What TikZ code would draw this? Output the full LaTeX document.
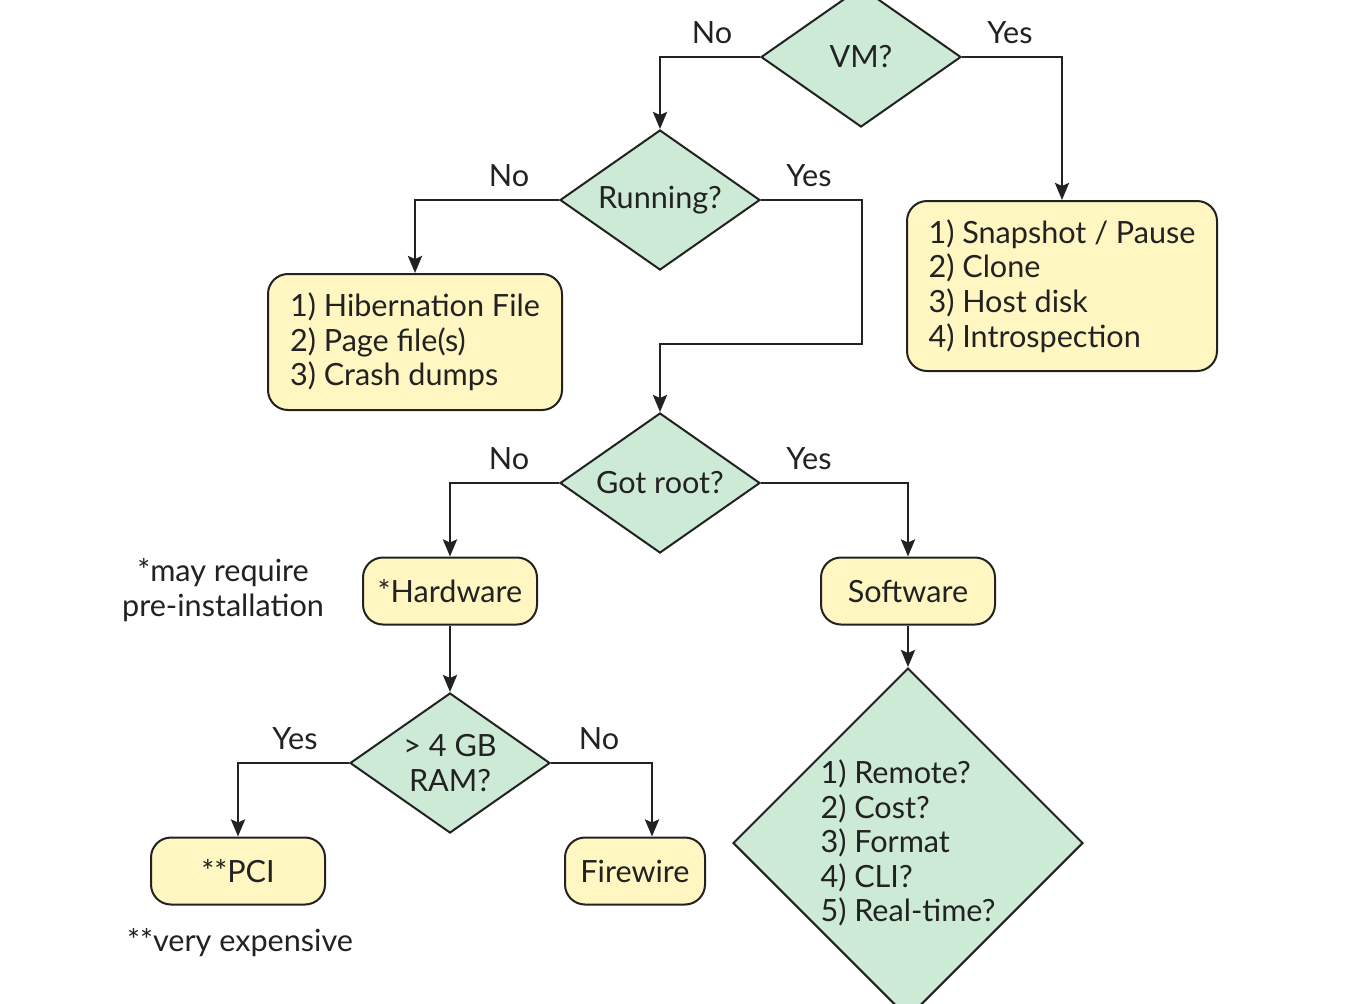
\documentclass[tikz,border=0pt]{standalone}
\usepackage{fontspec}
\setmainfont{Lato}
\usetikzlibrary{shapes.geometric,arrows.meta}
\definecolor{boxfill}{HTML}{FFF6C1}
\definecolor{askfill}{HTML}{CCEAD5}
\definecolor{ink}{HTML}{222222}
\begin{document}
\begin{tikzpicture}[x=0.5pt, y=-0.5pt,
    every node/.style={font=\fontsize{15.3}{17.3}\selectfont, text=ink},
    ask/.style={diamond, aspect=1.43, draw=ink, fill=askfill, line width=1pt,
        inner sep=0pt, minimum width=100pt, minimum height=70pt, align=center},
    answer/.style={rectangle, rounded corners=10pt, draw=ink, fill=boxfill,
        line width=1pt, minimum height=33.5pt, align=left},
    flow/.style={draw=ink, line width=1.4pt, -{Stealth[length=8.5pt, width=7pt, inset=1.5pt]}},
    lbl/.style={above, inner sep=6pt}]
    \path[use as bounding box, fill=white] (0, 0) rectangle (1348, 1003);

    % questions
    \node[ask] (vm) at (861, 57) {VM?};
    \node[ask] (run) at (660, 200) {Running?};
    \node[ask] (root) at (660, 483) {Got root?};
    \node[ask] (ram) at (450, 763) {> 4 GB\\RAM?};
    \node[ask, aspect=1, minimum width=175pt, minimum height=175pt, align=left] (opts) at (908, 843)
        {1) Remote?\\2) Cost?\\3) Format\\4) CLI?\\5) Real-time?};

    % answers
    \node[answer, minimum width=147pt, minimum height=68pt] (hib) at (415, 342)
        {1) Hibernation File\\2) Page file(s)\\3) Crash dumps};
    \node[answer, minimum width=155pt, minimum height=85pt] (snap) at (1062, 286)
        {1) Snapshot / Pause\\2) Clone\\3) Host disk\\4) Introspection};
    \node[answer, minimum width=87pt] (hw) at (450, 591) {*Hardware};
    \node[answer, minimum width=87pt] (sw) at (908, 591) {Software};
    \node[answer, minimum width=87pt] (pci) at (238, 871) {**PCI};
    \node[answer, minimum width=70pt] (fw) at (635, 871) {Firewire};

    \node[align=center] (prenote) at (223, 590) {*may require\\pre-installation};
    \node (costnote) at (240, 943) {**very expensive};

    % connectors
    \coordinate (detour) at (862, 344);
    \draw[flow] (vm.west) node[lbl, xshift=-24pt] {No} -| (run.north);
    \draw[flow] (vm.east) node[lbl, xshift=24pt] {Yes} -| (snap.north);
    \draw[flow] (run.west) node[lbl, xshift=-25pt] {No} -| (hib.north);
    \draw[flow] (run.east) node[lbl, xshift=24pt] {Yes} -| (detour) -| (root.north);
    \draw[flow] (root.west) node[lbl, xshift=-25pt] {No} -| (hw.north);
    \draw[flow] (root.east) node[lbl, xshift=24pt] {Yes} -| (sw.north);
    \draw[flow] (hw) -- (ram);
    \draw[flow] (sw) -- (opts);
    \draw[flow] (ram.west) node[lbl, xshift=-27pt] {Yes} -| (pci.north);
    \draw[flow] (ram.east) node[lbl, xshift=24pt] {No} -| ([xshift=8.5pt]fw.north);
\end{tikzpicture}
\end{document}
